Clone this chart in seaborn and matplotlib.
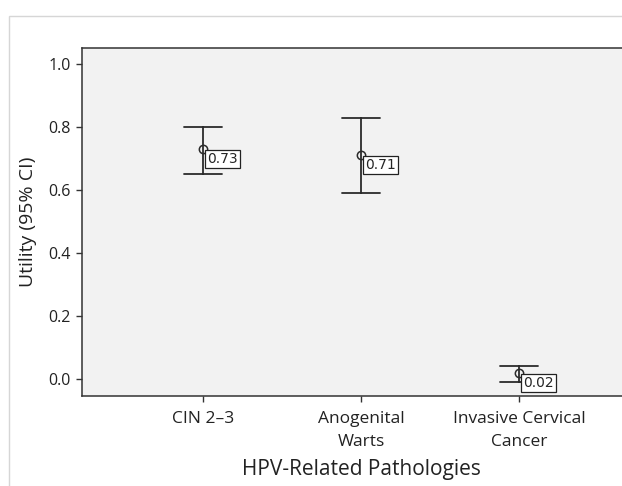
import numpy as np
import pandas as pd
import matplotlib
matplotlib.use("Agg")
import matplotlib.pyplot as plt
from matplotlib.patches import Rectangle
import seaborn as sns

# utility estimates with 95% CI
pathologies = ["CIN 2–3", "Anogenital\nWarts", "Invasive Cervical\nCancer"]
utility_mean = [0.73, 0.71, 0.02]
ci_lower = [0.65, 0.59, -0.01]
ci_upper = [0.80, 0.83, 0.04]

# long form: median of (lower, mean, upper) is the mean, full range is the CI
rows = []
for name, lo, m, hi in zip(pathologies, ci_lower, utility_mean, ci_upper):
    for v in (lo, m, hi):
        rows.append({"pathology": name, "utility": v})
df = pd.DataFrame(rows)

sns.set_style("ticks")
plt.rcParams["font.family"] = ["Open Sans", "DejaVu Sans"]

fig = plt.figure(figsize=(6.22, 4.86), dpi=100)
ax = fig.add_axes([82 / 622, 90 / 486, 558 / 622, 348 / 486])
ax.set_facecolor("#f2f2f2")

sns.pointplot(
    data=df, x="pathology", y="utility", order=pathologies,
    estimator="median", errorbar=("pi", 100), capsize=0.24,
    color="#2b2b2b", linestyle="none", marker="o", markersize=6,
    markerfacecolor="none", markeredgewidth=1.1,
    err_kws={"linewidth": 1.3}, ax=ax,
)

for i, m in enumerate(utility_mean):
    ax.annotate(f"{m:.2f}", xy=(i, m), xytext=(4, -3), textcoords="offset pixels",
                ha="left", va="top", fontsize=10, family=["DejaVu Sans"],
                bbox=dict(boxstyle="square,pad=0.14", fc="white", ec="#222222", lw=0.9))

ax.set_xlim(-0.766, 2.766)
ax.set_ylim(-0.054, 1.051)
ax.set_yticks([0.0, 0.2, 0.4, 0.6, 0.8, 1.0])
ax.set_yticklabels(["0.0", "0.2", "0.4", "0.6", "0.8", "1.0"])
ax.tick_params(axis="both", which="major", bottom=True, left=True, direction="out",
               length=4, width=1, color="#333333", labelcolor="#222222", pad=4)
ax.tick_params(axis="y", labelsize=11.5)
ax.tick_params(axis="x", labelsize=12.5, pad=7)
for lab in ax.get_xticklabels():
    lab.set_linespacing(1.6)
ax.set_xlabel("HPV-Related Pathologies", fontsize=15, color="#222222", labelpad=6)
ax.set_ylabel("Utility (95% CI)", fontsize=14, color="#222222", labelpad=8)
for s in ax.spines.values():
    s.set_visible(True)
    s.set_color("#333333")
    s.set_linewidth(1.1)

# light outer frame of the original graphic
fig.patches.append(Rectangle((9 / 622, -0.1), 1.2, (486 - 16) / 486 + 0.1,
                             transform=fig.transFigure, fill=False,
                             ec="#d6d6d6", lw=1.0, zorder=0))

fig.savefig("out.png", dpi=100)
